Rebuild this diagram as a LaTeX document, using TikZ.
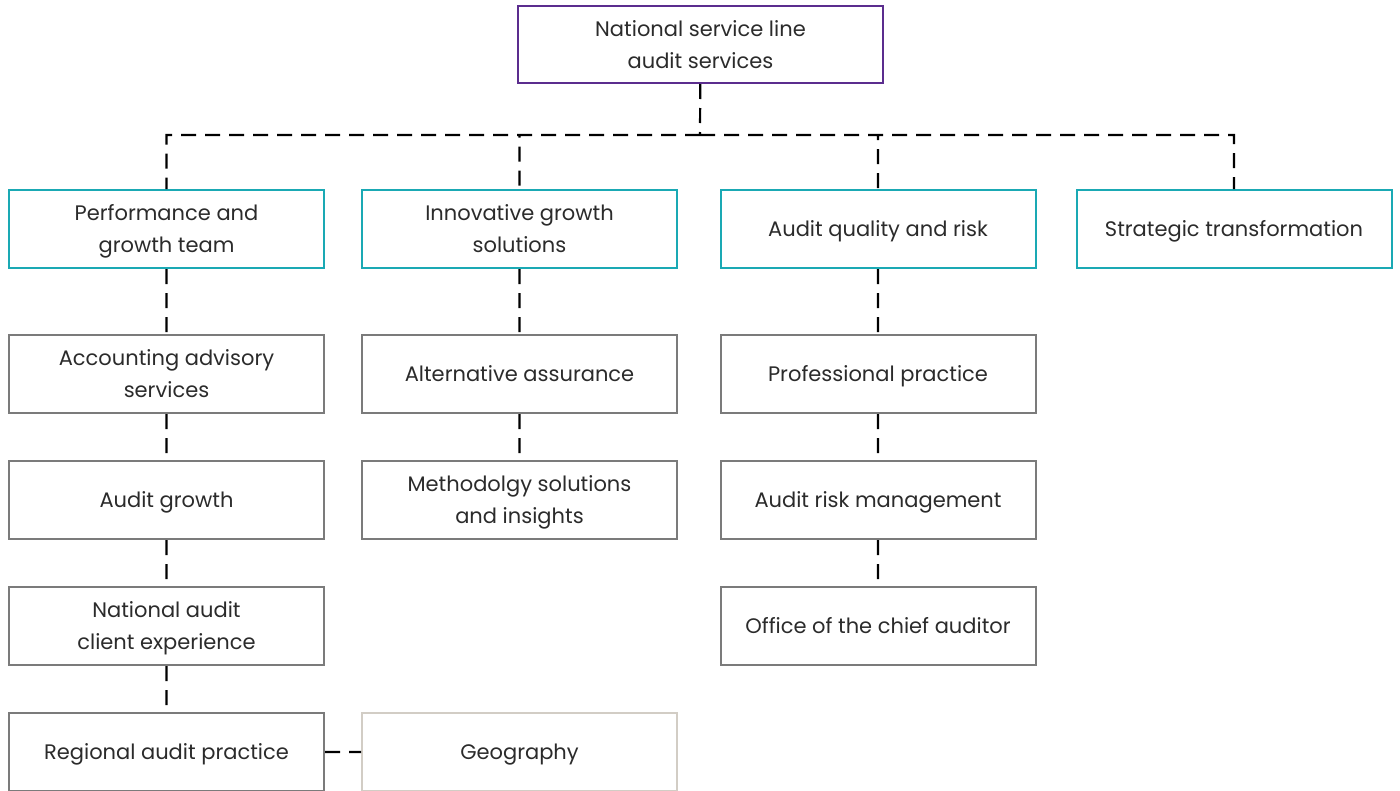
\documentclass[tikz,border=0pt]{standalone}
\usepackage{fontspec}
\setmainfont{Poppins}
\usetikzlibrary{positioning}
\definecolor{topline}{HTML}{5B2D8E}
\definecolor{teamline}{HTML}{1AA9B4}
\definecolor{unitline}{HTML}{7B7B7B}
\definecolor{geoline}{HTML}{D2CDC5}
\definecolor{txt}{HTML}{2B2B2B}
\tikzset{x=1pt, y=-1pt, node distance = 46pt,
  box/.style={draw, line width=2pt, minimum width=315pt, minimum height=78pt,
    align=center, text=txt, font=\fontsize{21}{32}\selectfont,
    execute at begin node={\rule{0pt}{21pt}},
    execute at end node={\rule[-6pt]{0pt}{6pt}}},
  tworow/.style={execute at begin node={\rule{0pt}{53pt}}},
  head/.style={box, tworow, draw=topline, minimum width=365pt, minimum height=77pt},
  team/.style={box, draw=teamline},
  unit/.style={box, draw=unitline},
  geo/.style={box, draw=geoline},
  link/.style={line width=2.2pt, dash pattern=on 15pt off 9pt}}

\begin{document}
\begin{tikzpicture}
    \useasboundingbox (0,0) rectangle (1400,790);
    \node[head] (nsl) at (700.5,44.5) {National service line\\audit services};
    \coordinate (bus) at (700,135);
    \node[team, tworow] (pgt) at (166.5,229) {Performance and\\growth team};
    \node[team, tworow] (igs) at (519.5,229) {Innovative growth\\solutions};
    \node[team] (aqr) at (878,229) {Audit quality and risk};
    \node[team] (stf) at (1234,229) {Strategic transformation};
    \node[unit, tworow, below=65pt of pgt] (aas) {Accounting advisory\\services};
    \node[unit, below=of aas] (agr) {Audit growth};
    \node[unit, tworow, below=of agr] (nace) {National audit\\client experience};
    \node[unit, below=of nace] (rap) {Regional audit practice};
    \node[geo, right=36pt of rap] (geo) {Geography};
    \node[unit, below=65pt of igs] (alt) {Alternative assurance};
    \node[unit, tworow, below=of alt] (msi) {Methodolgy solutions\\and insights};
    \node[unit, below=65pt of aqr] (pp) {Professional practice};
    \node[unit, below=of pp] (arm) {Audit risk management};
    \node[unit, below=of arm] (oca) {Office of the chief auditor};
    \draw[link] (nsl) -- (bus)
          (bus) -| (pgt) (bus) -| (igs) (bus) -| (aqr) (bus) -| (stf)
          (pgt) -- (aas) (aas) -- (agr) (agr) -- (nace) (nace) -- (rap)
          (rap) -- (geo)
          (igs) -- (alt) (alt) -- (msi)
          (aqr) -- (pp) (pp) -- (arm) (arm) -- (oca);
\end{tikzpicture}
\end{document}
